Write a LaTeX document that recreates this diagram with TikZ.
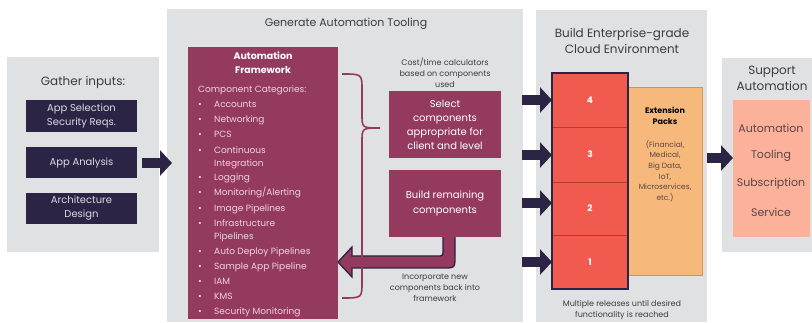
\documentclass[tikz,border=0pt]{standalone}
\usepackage{fontspec}
\setmainfont{Poppins}
\usetikzlibrary{arrows.meta}
\definecolor{panel}{HTML}{E0E1E3}
\definecolor{navy}{HTML}{2C2444}
\definecolor{mag}{HTML}{953A5F}
\definecolor{stackred}{HTML}{F15B4F}
\definecolor{divred}{HTML}{B33C2A}
\definecolor{ext}{HTML}{F6B97B}
\definecolor{extb}{HTML}{D8904D}
\definecolor{salmon}{HTML}{FBB19A}
\definecolor{titlegray}{HTML}{3C3C3C}
\definecolor{pinktext}{HTML}{EED3DE}
\definecolor{lighttext}{HTML}{DCD8E6}
\definecolor{browntext}{HTML}{5B4545}
\begin{document}
\begin{tikzpicture}[x=1pt,y=-1pt,
  box/.style={draw=none,inner sep=0pt,outer sep=0pt,anchor=north west},
  panelbox/.style={box,fill=panel},
  navybox/.style={box,fill=navy},
  magbox/.style={box,fill=mag},
  txt/.style={inner sep=0pt,outer sep=0pt,align=center},
  fatarrow/.style={navy,line width=10pt,-{Triangle[length=12pt,width=25pt]}},
  itemtxt/.style={inner sep=0pt,anchor=base west,text=pinktext,font=\fontsize{9}{11}\selectfont},
]
\useasboundingbox (0,0) rectangle (812,323);
% panels
\node[panelbox,minimum width=152pt,minimum height=195pt] (p1) at (7,57) {};
\node[panelbox,minimum width=356pt,minimum height=313pt] (p2) at (167,9) {};
\node[panelbox,minimum width=171pt,minimum height=312pt] (p3) at (536,10) {};
\node[panelbox,minimum width=90pt,minimum height=194pt] (p4) at (722,58) {};

% panel 1
\node[txt,text=titlegray,font=\fontsize{12}{14}\selectfont] (t1) at (83,82) {Gather inputs:};
\node[navybox,minimum width=111pt,minimum height=32pt] (in1) at (26,100) {};
\node[navybox,minimum width=111pt,minimum height=31pt] (in2) at (26,147) {};
\node[navybox,minimum width=111pt,minimum height=31pt] (in3) at (26,193) {};
\node[txt,text=lighttext,font=\fontsize{10}{14}\selectfont] (in1t) at (in1.center) {App Selection\\Security Reqs.};
\node[txt,text=lighttext,font=\fontsize{10}{14}\selectfont] (in2t) at (in2.center) {App Analysis};
\node[txt,text=lighttext,font=\fontsize{10}{14}\selectfont] (in3t) at (in3.center) {Architecture\\Design};

% panel 2
\node[txt,text=titlegray,font=\fontsize{11}{13}\selectfont] (t2) at (346,24) {Generate Automation Tooling};

% bent arrow (drawn before build box)
\draw[fill=mag,draw=navy,line width=1.3pt] (443,232) -- (443,250) .. controls (443,256) .. (437,256) -- (352,256) -- (352,247) -- (338,262) -- (352,277) -- (352,268) -- (443,268) .. controls (455,268) .. (455,256) -- (455,232) -- cycle;

\node[magbox,minimum width=150pt,minimum height=272pt] (fw) at (188,47) {};
\node[txt,text=white,font=\fontsize{9.5}{14}\selectfont\bfseries] (fwt) at (263,63) {Automation\\Framework};
\node[itemtxt] (cc) at (198,93) {Component Categories:};
\foreach \n/\y/\t in {a/108/Accounts,b/123/Networking,c/138/PCS,d/154/Continuous,e/181/Logging,f/196/{Monitoring/Alerting},g/212/Image Pipelines,h/227/Infrastructure,i/255/Auto Deploy Pipelines,j/270/Sample App Pipeline,k/285/IAM,l/300/KMS,m/315/Security Monitoring}{
  \node[itemtxt] (bul\n) at (198,\y) {•};
  \node[itemtxt] (it\n) at (214,\y) {\t};
}
\node[itemtxt] (itd2) at (214,167) {Integration};
\node[itemtxt] (ith2) at (214,240) {Pipelines};

% brace
\draw[mag,line width=1.6pt] (342,74) .. controls (362,74) .. (362,90) -- (362,114) .. controls (362,128) .. (380,128) .. controls (362,128) .. (362,142) -- (362,282) .. controls (362,298) .. (342,298);

\node[txt,text=titlegray,font=\fontsize{8}{11}\selectfont] (cost) at (445,73) {Cost/time calculators\\based on components\\used};
\node[magbox,minimum width=112pt,minimum height=67pt] (sel) at (389,91) {};
\node[txt,text=white,font=\fontsize{10}{14}\selectfont] (selt) at (sel.center) {Select\\components\\appropriate for\\client and level};
\node[magbox,minimum width=112pt,minimum height=67pt] (bld) at (389,170) {};
\node[txt,text=white,font=\fontsize{10}{15}\selectfont] (bldt) at (bld.center) {Build remaining\\components};
\node[txt,text=titlegray,font=\fontsize{8}{11}\selectfont] (inc) at (435,288) {Incorporate new\\components back into\\framework};

% panel 3
\node[txt,text=titlegray,font=\fontsize{12}{16}\selectfont] (t3) at (622,41) {Build Enterprise-grade\\Cloud Environment};
\node[box,fill=ext,draw=extb,line width=0.8pt,minimum width=74pt,minimum height=188pt] (ext) at (628,87) {};
\node[box,fill=stackred,draw=divred,line width=0.8pt,minimum width=76pt,minimum height=54pt] (s4) at (552,73) {};
\node[box,fill=stackred,draw=divred,line width=0.8pt,minimum width=76pt,minimum height=55pt] (s3) at (552,127) {};
\node[box,fill=stackred,draw=divred,line width=0.8pt,minimum width=76pt,minimum height=53pt] (s2) at (552,182) {};
\node[box,fill=stackred,draw=divred,line width=0.8pt,minimum width=76pt,minimum height=54pt] (s1) at (552,235) {};
\draw[navy,line width=1.3pt] (s4.north west) rectangle (s1.south east);
\foreach \s/\l in {s4/4,s3/3,s2/2,s1/1}{
  \node[txt,text=white,font=\fontsize{9}{11}\selectfont\bfseries] (\s n) at (\s.center) {\l};
}
\node[txt,text=black,font=\fontsize{8}{11}\selectfont\bfseries] (extt) at (665,115.5) {Extension\\Packs};
\node[txt,text=browntext,font=\fontsize{7.5}{10.6}\selectfont] (extl) at (665,171) {(Financial,\\Medical,\\Big Data,\\IoT,\\Microservices,\\etc.)};
\node[txt,text=titlegray,font=\fontsize{8}{11}\selectfont] (mult) at (622,309.5) {Multiple releases until desired\\functionality is reached};

% panel 4
\node[txt,text=titlegray,font=\fontsize{12}{16}\selectfont] (t4) at (772,78) {Support\\Automation};
\node[box,fill=salmon,minimum width=77pt,minimum height=137pt] (sal) at (733,100) {};
\foreach \n/\y/\t in {a/128/Automation,b/156/Tooling,c/184/Subscription,d/212/Service}{
  \node[txt,text=browntext,font=\fontsize{11}{13}\selectfont] (sal\n) at (771,\y) {\t};
}

% fat arrows
\coordinate (a1s) at (142,163);
\coordinate (a1e) at (172,163);
\draw[fatarrow] (a1s) -- (a1e);
\foreach \s/\y in {s4/100,s3/155,s2/203,s1/262}{
  \coordinate (st\s) at (522,\y);
  \draw[fatarrow] (st\s) -- (\s.west |- st\s);
}
\coordinate (a3s) at (707,158);
\draw[fatarrow] (a3s) -- (sal.west |- a3s);
\end{tikzpicture}
\end{document}
